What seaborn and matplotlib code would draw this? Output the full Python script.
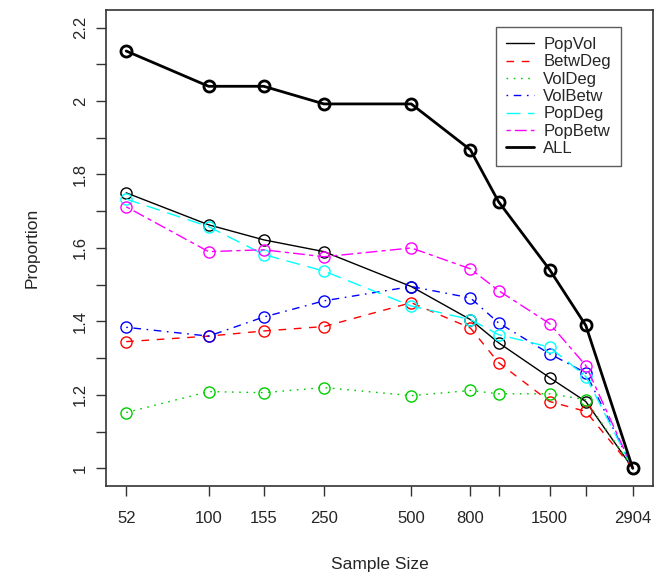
import matplotlib
matplotlib.use("Agg")
import matplotlib.pyplot as plt
import seaborn as sns
from matplotlib.lines import Line2D
from matplotlib.ticker import FixedLocator, NullFormatter

# sample sizes (log x axis); 1000 and 2000 have ticks but no labels
sample_sizes = [52, 100, 155, 250, 500, 800, 1000, 1500, 2000, 2904]
labelled_sizes = [52, 100, 155, 250, 500, 800, 1500, 2904]
unlabelled_sizes = [1000, 2000]

series_names = ["PopVol", "BetwDeg", "VolDeg", "VolBetw", "PopDeg", "PopBetw", "ALL"]

pop_vol = [1.750, 1.663, 1.622, 1.590, 1.495, 1.405, 1.342, 1.247, 1.182, 1.0]
betw_deg = [1.345, 1.360, 1.374, 1.386, 1.451, 1.382, 1.288, 1.182, 1.155, 1.0]
vol_deg = [1.152, 1.209, 1.206, 1.220, 1.198, 1.212, 1.203, 1.203, 1.187, 1.0]
vol_betw = [1.384, 1.360, 1.412, 1.456, 1.495, 1.464, 1.396, 1.312, 1.260, 1.0]
pop_deg = [1.733, 1.658, 1.582, 1.537, 1.442, 1.405, 1.364, 1.330, 1.250, 1.0]
pop_betw = [1.712, 1.590, 1.595, 1.576, 1.600, 1.543, 1.484, 1.394, 1.280, 1.0]
all_vals = [2.136, 2.040, 2.040, 1.992, 1.992, 1.867, 1.726, 1.541, 1.389, 1.0]

series_values = [pop_vol, betw_deg, vol_deg, vol_betw, pop_deg, pop_betw, all_vals]

# R style colours / line types
colors = ["black", "#FF0000", "#00CD00", "#0000FF", "#00FFFF", "#FF00FF", "black"]
linestyles = [
    "-",
    (0, (5.5, 5.5)),
    (0, (1.2, 4.0)),
    (0, (1.2, 4.0, 5.5, 4.0)),
    (0, (10.0, 5.5)),
    (0, (3.0, 3.0, 8.5, 3.0)),
    "-",
]
linewidths = [1.0, 1.0, 1.0, 1.0, 1.0, 1.0, 2.0]

sns.set_theme(style="ticks")
plt.rcParams["font.family"] = ["Liberation Sans", "DejaVu Sans"]

fig = plt.figure(figsize=(6.67, 5.81), dpi=100)
ax = fig.add_axes([0.159, 0.1635, 0.820, 0.8195])

for name, vals, c, ls, lw in zip(series_names, series_values, colors, linestyles, linewidths):
    sns.lineplot(x=sample_sizes, y=vals, ax=ax, color=c, linestyle=ls, linewidth=lw,
                 marker="o", markersize=8, markerfacecolor="none", markeredgecolor=c,
                 markeredgewidth=lw, legend=False)

ax.set_xscale("log")
ax.set_xlim(44.3, 3410)
ax.set_ylim(0.952, 2.248)

ax.xaxis.set_major_locator(FixedLocator(labelled_sizes))
ax.set_xticklabels([str(s) for s in labelled_sizes])
ax.xaxis.set_minor_locator(FixedLocator(unlabelled_sizes))
ax.xaxis.set_minor_formatter(NullFormatter())

y_major = [1.0, 1.2, 1.4, 1.6, 1.8, 2.0, 2.2]
y_minor = [1.1, 1.3, 1.5, 1.7, 1.9, 2.1]
ax.yaxis.set_major_locator(FixedLocator(y_major))
ax.set_yticklabels(["1", "1.2", "1.4", "1.6", "1.8", "2", "2.2"], rotation=90, va="center")
ax.yaxis.set_minor_locator(FixedLocator(y_minor))
ax.yaxis.set_minor_formatter(NullFormatter())

for which in ("major", "minor"):
    ax.tick_params(axis="both", which=which, direction="out", length=7, width=1, color="#333333")
ax.tick_params(axis="x", which="major", pad=11, labelsize=12)
ax.tick_params(axis="y", which="major", pad=6, labelsize=12)

for sp in ax.spines.values():
    sp.set_visible(True)
    sp.set_color("#333333")
    sp.set_linewidth(1.2)

ax.set_xlabel("Sample Size", fontsize=12.5, labelpad=22)
ax.set_ylabel("Proportion", fontsize=12.5, labelpad=24)

handles = [Line2D([0], [0], color=c, linestyle=ls, linewidth=lw)
           for c, ls, lw in zip(colors, linestyles, linewidths)]
leg = ax.legend(handles, series_names, loc="upper right", bbox_to_anchor=(0.9415, 0.964),
                borderaxespad=0, fontsize=12, frameon=True, fancybox=False,
                handlelength=1.7, labelspacing=0.14, handletextpad=0.55, borderpad=0.6)
leg.get_frame().set_edgecolor("#333333")
leg.get_frame().set_linewidth(1.0)

fig.savefig("out.png", dpi=100)
